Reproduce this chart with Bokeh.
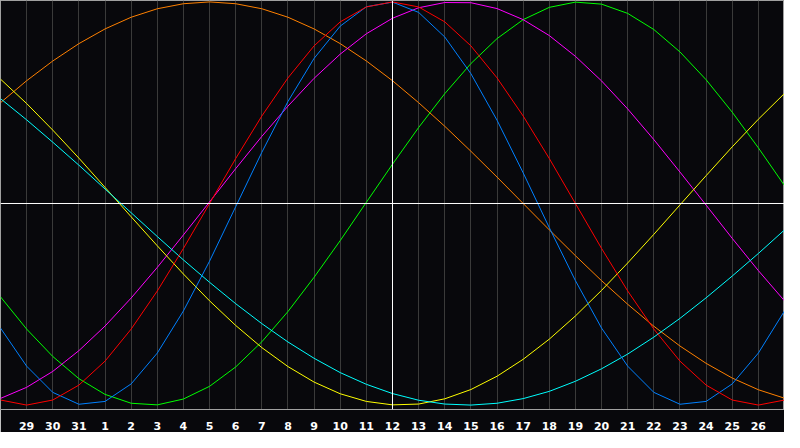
from bokeh.plotting import figure
from bokeh.models import Range1d, FixedTicker, Span
from bokeh.embed import file_html
from bokeh.resources import INLINE

# days shown (previous month 28 .. current month 27); today = 12
day_labels = ["28", "29", "30", "31", "1", "2", "3", "4", "5", "6", "7", "8", "9", "10",
              "11", "12", "13", "14", "15", "16", "17", "18", "19", "20", "21", "22",
              "23", "24", "25", "26", "27"]
tick_labels = day_labels[1:-1]
today_label = "12"

# cycle values read per day (-1 .. 1)
physical = [-0.618, -0.807, -0.937, -0.996, -0.982, -0.895, -0.742, -0.533, -0.286, -0.016,
            0.254, 0.506, 0.720, 0.880, 0.976, 0.999, 0.948, 0.826, 0.644, 0.413,
            0.152, -0.120, -0.383, -0.618, -0.807, -0.937, -0.996, -0.982, -0.895, -0.742,
            -0.533]
emotional = [-0.975, -1.000, -0.975, -0.901, -0.782, -0.623, -0.434, -0.223, 0.000, 0.223,
             0.434, 0.623, 0.782, 0.901, 0.975, 1.000, 0.975, 0.901, 0.782, 0.623,
             0.434, 0.223, 0.000, -0.223, -0.434, -0.623, -0.782, -0.901, -0.975, -1.000,
             -0.975]
intellectual = [-0.463, -0.623, -0.759, -0.869, -0.947, -0.991, -0.999, -0.970, -0.907, -0.811,
                -0.686, -0.536, -0.366, -0.184, 0.006, 0.195, 0.377, 0.545, 0.694, 0.818,
                0.912, 0.973, 0.999, 0.989, 0.943, 0.863, 0.752, 0.614, 0.453, 0.276,
                0.089]
awareness = [0.500, 0.609, 0.707, 0.793, 0.866, 0.924, 0.966, 0.991, 1.000, 0.991,
             0.966, 0.924, 0.866, 0.793, 0.707, 0.609, 0.500, 0.383, 0.259, 0.131,
             0.000, -0.131, -0.259, -0.383, -0.500, -0.609, -0.707, -0.793, -0.866, -0.924,
             -0.966]
intuitive = [-0.967, -0.912, -0.833, -0.730, -0.608, -0.469, -0.317, -0.156, 0.008, 0.173,
             0.333, 0.483, 0.621, 0.741, 0.842, 0.919, 0.971, 0.997, 0.996, 0.967,
             0.912, 0.833, 0.730, 0.608, 0.469, 0.317, 0.156, -0.008, -0.173, -0.333,
             -0.483]
aesthetic = [0.617, 0.496, 0.364, 0.225, 0.080, -0.066, -0.210, -0.350, -0.483, -0.605,
             -0.715, -0.809, -0.886, -0.944, -0.982, -0.999, -0.995, -0.969, -0.923, -0.857,
             -0.773, -0.673, -0.558, -0.431, -0.295, -0.153, -0.007, 0.138, 0.281, 0.418,
             0.546]
spiritual = [0.520, 0.415, 0.304, 0.190, 0.072, -0.046, -0.164, -0.280, -0.391, -0.497,
             -0.596, -0.687, -0.768, -0.839, -0.897, -0.943, -0.976, -0.995, -1.000, -0.991,
             -0.968, -0.932, -0.882, -0.820, -0.747, -0.663, -0.570, -0.468, -0.360, -0.248,
             -0.131]

series = [
    (awareness, "#ff8000"),
    (intellectual, "#00ff00"),
    (intuitive, "#ff00ff"),
    (aesthetic, "#ffff00"),
    (spiritual, "#00ffff"),
    (physical, "#0080ff"),
    (emotional, "#ff0000"),
]

xs = list(range(len(day_labels)))

p = figure(width=784, height=432,
           x_range=Range1d(0, len(day_labels) - 1),
           y_range=Range1d(-1.022, 1.007),
           y_axis_location=None,
           output_backend="svg", toolbar_location=None,
           min_border_left=0, min_border_right=0, min_border_top=0, min_border_bottom=0,
           background_fill_color="#08080c", border_fill_color="#08080c",
           outline_line_color="#a0a0a0", outline_line_width=1)

ticks = list(range(1, len(day_labels) - 1))
p.xaxis.ticker = FixedTicker(ticks=ticks)
p.xaxis.major_label_overrides = {t: lab for t, lab in zip(ticks, tick_labels)}
p.xaxis.axis_line_color = "#a0a0a0"
p.xaxis.major_tick_line_color = None
p.xaxis.minor_tick_line_color = None
p.xaxis.major_label_text_color = "#ffffff"
p.xaxis.major_label_text_font = "DejaVu Sans"
p.xaxis.major_label_text_font_style = "bold"
p.xaxis.major_label_text_font_size = "11px"
p.xaxis.major_label_standoff = 6

p.xgrid.ticker = FixedTicker(ticks=ticks)
p.xgrid.grid_line_color = "#3a3a3a"
p.xgrid.grid_line_width = 1
p.ygrid.visible = False

for vals, col in series:
    p.line(xs, vals, line_color=col, line_width=1)

p.add_layout(Span(location=day_labels.index(today_label), dimension="height",
                  line_color="#ffffff", line_width=1))
p.add_layout(Span(location=0, dimension="width", line_color="#ffffff", line_width=1))

open("out.html", "w").write(file_html(p, INLINE))
